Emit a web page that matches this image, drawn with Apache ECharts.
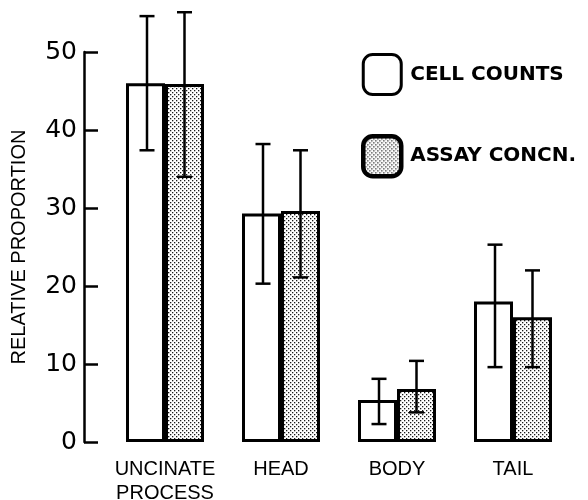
<!DOCTYPE html>
<html>
<head>
<meta charset="utf-8">
<script src="https://cdn.jsdelivr.net/npm/echarts@6/dist/echarts.min.js"></script>
<style>html,body{margin:0;padding:0;background:#fff;}#c{width:588px;height:500px;}</style>
</head>
<body>
<div id="c"></div>
<script>
const categories = ['UNCINATE\nPROCESS', 'HEAD', 'BODY', 'TAIL'];
const seriesNames = ['CELL COUNTS', 'ASSAY CONCN.'];
const cellCounts = [46.0, 29.3, 5.4, 18.0];
const cellLow = [37.4, 20.3, 2.3, 9.6];
const cellHigh = [54.6, 38.2, 8.1, 25.3];
const assayConc = [45.9, 29.6, 6.8, 16.0];
const assayLow = [34.0, 21.1, 3.8, 9.6];
const assayHigh = [55.1, 37.4, 10.4, 22.0];
const yTicks = { min: 0, max: 50, interval: 10 };

// dotted pattern
const pc = document.createElement('canvas');
pc.width = 4; pc.height = 4;
const g = pc.getContext('2d');
g.fillStyle = '#ffffff'; g.fillRect(0, 0, 4, 4);
g.fillStyle = '#1a1a1a';
g.fillRect(0, 0, 1.3, 1.3);
g.fillRect(2, 2, 1.3, 1.3);
const dots = { image: pc, repeat: 'repeat' };

const BAR_W = 39;
function errItem(offset) {
  return function (params, api) {
    const lo = api.coord([api.value(0), api.value(1)]);
    const hi = api.coord([api.value(0), api.value(2)]);
    const x = lo[0] + offset;
    const cw = 7.5;
    const st = { stroke: '#000', lineWidth: 2.5 };
    return {
      type: 'group',
      children: [
        { type: 'line', shape: { x1: x, y1: lo[1], x2: x, y2: hi[1] }, style: st },
        { type: 'line', shape: { x1: x - cw, y1: lo[1], x2: x + cw, y2: lo[1] }, style: st },
        { type: 'line', shape: { x1: x - cw, y1: hi[1], x2: x + cw, y2: hi[1] }, style: st }
      ]
    };
  };
}
const cellErr = categories.map((c, i) => [i, cellLow[i], cellHigh[i]]);
const assayErr = categories.map((c, i) => [i, assayLow[i], assayHigh[i]]);

const chart = echarts.init(document.getElementById('c'), null, { renderer: 'canvas' });
chart.setOption({
  animation: false,
  backgroundColor: '#fff',
  grid: { left: 107, right: 17, top: 52, bottom: 58, containLabel: false, outerBoundsMode: 'none' },
  legend: {
    orient: 'vertical',
    left: 361, top: 53, padding: 0,
    itemWidth: 38, itemHeight: 40, itemGap: 38,
    icon: 'roundRect',
    textStyle: { fontFamily: 'DejaVu Sans', fontWeight: 'bold', fontSize: 20, color: '#000', padding: [0, 0, 0, 4] },
    data: [
      { name: seriesNames[0], itemStyle: { color: '#fff', borderColor: '#000', borderWidth: 3 } },
      { name: seriesNames[1], itemStyle: { color: dots, borderColor: '#000', borderWidth: 4.5 } }
    ]
  },
  xAxis: {
    type: 'category',
    data: categories,
    axisLine: { show: false },
    axisTick: { show: false },
    axisLabel: { interval: 0, margin: 15, fontFamily: 'Liberation Sans', fontSize: 20, color: '#000', lineHeight: 24 }
  },
  yAxis: {
    type: 'value',
    min: yTicks.min, max: yTicks.max, interval: yTicks.interval,
    offset: 23,
    name: 'RELATIVE PROPORTION',
    nameLocation: 'middle',
    nameGap: 55,
    nameTextStyle: { fontFamily: 'Liberation Sans', fontSize: 20, color: '#000' },
    splitLine: { show: false },
    axisLine: { show: true, lineStyle: { color: '#000', width: 2.5 } },
    axisTick: { show: true, inside: true, length: 14, lineStyle: { color: '#000', width: 2.5 } },
    axisLabel: { margin: 7, fontFamily: 'DejaVu Sans', fontSize: 25, color: '#000' }
  },
  series: [
    {
      name: seriesNames[0], type: 'bar', data: cellCounts,
      barWidth: BAR_W, barGap: '0%',
      itemStyle: { color: '#fff', borderColor: '#000', borderWidth: 3 }
    },
    {
      name: seriesNames[1], type: 'bar', data: assayConc,
      barWidth: BAR_W, barGap: '0%',
      itemStyle: { color: dots, borderColor: '#000', borderWidth: 3 }
    },
    {
      type: 'custom', name: 'cellErr', data: cellErr, renderItem: errItem(-BAR_W / 2 + 1.5),
      encode: { x: 0, y: [1, 2] }, z: 10, silent: true
    },
    {
      type: 'custom', name: 'assayErr', data: assayErr, renderItem: errItem(BAR_W / 2),
      encode: { x: 0, y: [1, 2] }, z: 10, silent: true
    }
  ]
});
</script>
</body>
</html>
